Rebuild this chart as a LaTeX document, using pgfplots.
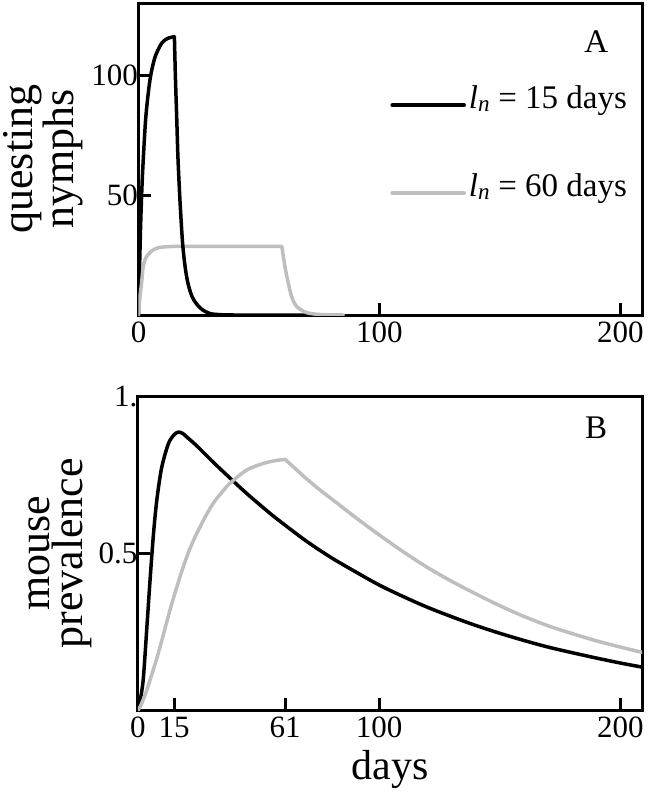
\documentclass[border=0pt]{standalone}
\usepackage{fontspec}
\setmainfont{Liberation Serif}
\usepackage{pgfplots}
\pgfplotsset{compat=1.18}
\definecolor{lgray}{RGB}{190,190,190}

% Panel A, l_n = 15: rise and fall
\pgfplotstableread{
x y
0 0
0.4 18
0.9 38
1.5 55
2.2 69
3 82
4 92
5.1 100
6.9 107.6
9.6 113.2
12 115.2
14.9 116
}\nymphsAup
\pgfplotstableread{
x y
14.9 116
15.3 100
15.9 81
16.4 65
17.2 48
18.3 30
19.5 19
20.7 12.5
22.3 7.5
24.2 4.5
26.5 2.2
29.7 0.6
34 0.15
40 0
75 0
}\nymphsAdown
% Panel A, l_n = 60
\pgfplotstableread{
x y
0 0
0.5 6.5
1.3 13.5
2.0 20.5
3.0 23.8
4.1 25.3
5.5 26.7
7.5 27.8
10 28.3
14 28.55
20 28.6
59.5 28.6
}\nymphsBup
\pgfplotstableread{
x y
59.5 28.6
60.8 20.1
62.2 13.2
63.6 7.6
65.7 3.5
69.8 1
75.4 0.2
85 0
}\nymphsBdown

% Panel B, l_n = 15
\pgfplotstableread{
x y
0 0
1 0.035
2.2 0.1
3.6 0.255
5 0.415
6.4 0.56
7.8 0.67
9.8 0.773
12.6 0.85
15 0.879
16.8 0.887
18.5 0.883
20 0.873
24.4 0.843
31.2 0.791
38.2 0.740
45.1 0.691
54.7 0.628
61 0.590
70 0.538
80 0.487
90 0.442
100 0.399
110 0.362
120 0.328
130 0.298
140 0.270
150 0.245
160 0.222
170 0.201
180 0.183
190 0.166
200 0.150
209 0.137
}\prevA
% Panel B, l_n = 60
\pgfplotstableread{
x y
0 0
1 0.012
2 0.03
3.5 0.06
5 0.096
7 0.145
9.1 0.2
13.3 0.32
17.4 0.425
21 0.505
24.4 0.564
28 0.618
31.2 0.66
35 0.697
38.2 0.724
45.1 0.766
52 0.787
57 0.796
61 0.80
}\prevBup
\pgfplotstableread{
x y
61 0.80
64 0.779
68.7 0.746
75 0.705
82.6 0.660
91 0.610
100 0.559
110 0.505
120 0.455
130 0.411
140 0.371
150 0.333
160 0.299
170 0.269
180 0.244
190 0.221
200 0.201
209 0.184
}\prevBdown

\begin{document}
\begin{tikzpicture}
\useasboundingbox (0,0) rectangle (648pt,-793pt);
\pgfplotsset{
  mystyle/.style={
    scale only axis,
    axis line style={line width=3pt},
    every tick/.style={line width=3pt, black},
    major tick length=12pt,
    tick align=inside,
    tick pos=left,
    xmin=0, xmax=209,
    ticklabel style={font=\fontsize{31}{31}\selectfont},
    /pgf/number format/assume math mode=true,
    xticklabel style={anchor=base, yshift=-27pt, inner sep=0pt},
    yticklabel style={anchor=east, inner sep=0pt, xshift=-0.5pt},
  },
  curveblack/.style={black, line width=3.5pt, line cap=round, line join=round, smooth, tension=0.5},
  curvegray/.style={lgray, line width=3.5pt, line cap=round, line join=round, smooth, tension=0.5},
}
% Panel A
\begin{axis}[mystyle,
  at={(138.5pt,-315pt)}, anchor=south west,
  width=503.5pt, height=312pt,
  ymin=0, ymax=130,
  xtick={0,100,200}, xticklabels={0,100,200},
  ytick={50,100}, yticklabels={50,100},
  ylabel={questing\\nymphs},
  ylabel style={at={(axis description cs:-0.109,0.5)}, anchor=south, rotate=0, inner sep=0pt, align=center, font=\fontsize{44}{33}\selectfont},
  legend style={draw=none, fill=none, at={(rel axis cs:0.5,0.7276)}, anchor=north west,
    font=\fontsize{33}{33}\selectfont, inner sep=0pt, row sep=62pt,
    nodes={inner sep=0pt, text height=20pt, text depth=6pt}},
  legend cell align=left,
  legend image code/.code={\draw[#1] (0pt,-4pt) -- (72pt,-4pt);},
]
\addplot[curveblack] table[x=x,y=y] {\nymphsAup};
\addlegendentry{\hspace{3pt}\textit{l}\textsubscript{\textit{n}} = 15 days}
\addplot[curvegray] table[x=x,y=y] {\nymphsBup};
\addlegendentry{\hspace{3pt}\textit{l}\textsubscript{\textit{n}} = 60 days}
\addplot[curveblack, forget plot] table[x=x,y=y] {\nymphsAdown};
\addplot[curvegray, forget plot] table[x=x,y=y] {\nymphsBdown};
\node[font=\fontsize{33}{33}\selectfont] at (rel axis cs:0.909,0.875) {A};
\end{axis}
% Panel B
\begin{axis}[mystyle,
  at={(138pt,-710pt)}, anchor=south west,
  width=504pt, height=313.3pt,
  ymin=0, ymax=1,
  xtick={0,15,61,100,200}, xticklabels={0,15,61,100,200},
  ytick={0.5,1}, yticklabels={0.5,1.},
  ylabel={mouse\\prevalence},
  ylabel style={at={(axis description cs:-0.091,0.5)}, anchor=south, rotate=0, inner sep=0pt, align=center, font=\fontsize{44}{33}\selectfont},
  xlabel={days},
  xlabel style={at={(axis description cs:0.5,0)}, anchor=base, yshift=-69.5pt, inner sep=0pt, font=\fontsize{42}{42}\selectfont},
]
\addplot[curveblack] table[x=x,y=y] {\prevA};
\addplot[curvegray] table[x=x,y=y] {\prevBup};
\addplot[curvegray] table[x=x,y=y] {\prevBdown};
\node[font=\fontsize{33}{33}\selectfont] at (rel axis cs:0.909,0.9) {B};
\end{axis}
\end{tikzpicture}
\end{document}
